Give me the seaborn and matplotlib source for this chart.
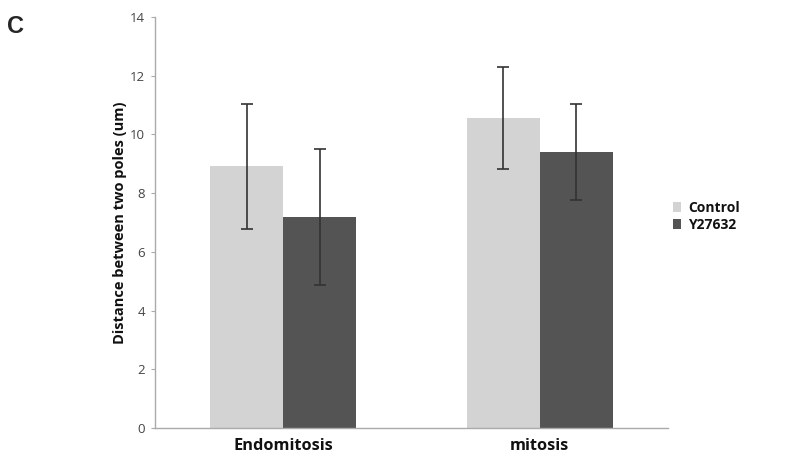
import pandas as pd
import seaborn as sns
import matplotlib.pyplot as plt

# Data
groups = ['Endomitosis', 'mitosis']
treatments = ['Control', 'Y27632']
control_mean = [8.92, 10.55]
control_err = [2.13, 1.74]
y27632_mean = [7.18, 9.40]
y27632_err = [2.32, 1.62]

df = pd.DataFrame({
    'group': groups * 2,
    'treatment': [treatments[0]] * 2 + [treatments[1]] * 2,
    'distance': control_mean + y27632_mean,
    'err': control_err + y27632_err,
})

sns.set_style('white')
plt.rcParams['font.family'] = ['Open Sans', 'DejaVu Sans']

fig = plt.figure(figsize=(7.97, 4.70), dpi=100)
ax = fig.add_axes([0.1945, 0.0894, 0.6435, 0.8744])

palette = {'Control': '#d3d3d3', 'Y27632': '#545454'}
sns.barplot(data=df, x='group', y='distance', hue='treatment', order=groups,
            hue_order=treatments, palette=palette, width=0.57, errorbar=None,
            saturation=1, linewidth=0, ax=ax)

# error bars at bar centres
bars = [p for p in ax.patches if p.get_height() > 0]
for bar in bars:
    xc = bar.get_x() + bar.get_width() / 2
    h = bar.get_height()
    row = df[(df['distance'] - h).abs() < 1e-9].iloc[0]
    ax.errorbar(xc, h, yerr=row['err'], fmt='none', ecolor='#333333',
                elinewidth=1.2, capsize=4, capthick=1.2)

ax.set_ylim(0, 14)
ax.set_yticks(range(0, 15, 2))
ax.set_xlim(-0.5, 1.5)
ax.set_xlabel('')
ax.set_ylabel('Distance between two poles (um)', fontsize=10.5, fontweight='bold',
              color='#111111', labelpad=2)
ax.tick_params(axis='y', labelsize=9.5, labelcolor='#444444', length=3,
               color='#aaaaaa', left=True, direction='out', pad=4)
ax.tick_params(axis='x', labelsize=11.8, length=0, pad=7)
for lab in ax.get_xticklabels():
    lab.set_fontweight('bold')
    lab.set_color('#111111')

sns.despine(ax=ax, top=True, right=True)
ax.spines['left'].set_color('#aaaaaa')
ax.spines['bottom'].set_color('#aaaaaa')
ax.spines['left'].set_linewidth(1)
ax.spines['bottom'].set_linewidth(1)

leg = ax.legend(loc='center left', bbox_to_anchor=(0.985, 0.515), frameon=False,
                handlelength=0.6, handleheight=0.7, handletextpad=0.5,
                labelspacing=0.25, fontsize=10)
for t in leg.get_texts():
    t.set_fontweight('bold')
    t.set_color('#111111')

fig.text(0.009, 0.93, 'C', fontsize=17, fontweight='bold', family=['Liberation Sans'])

fig.savefig('out.png', dpi=100)
